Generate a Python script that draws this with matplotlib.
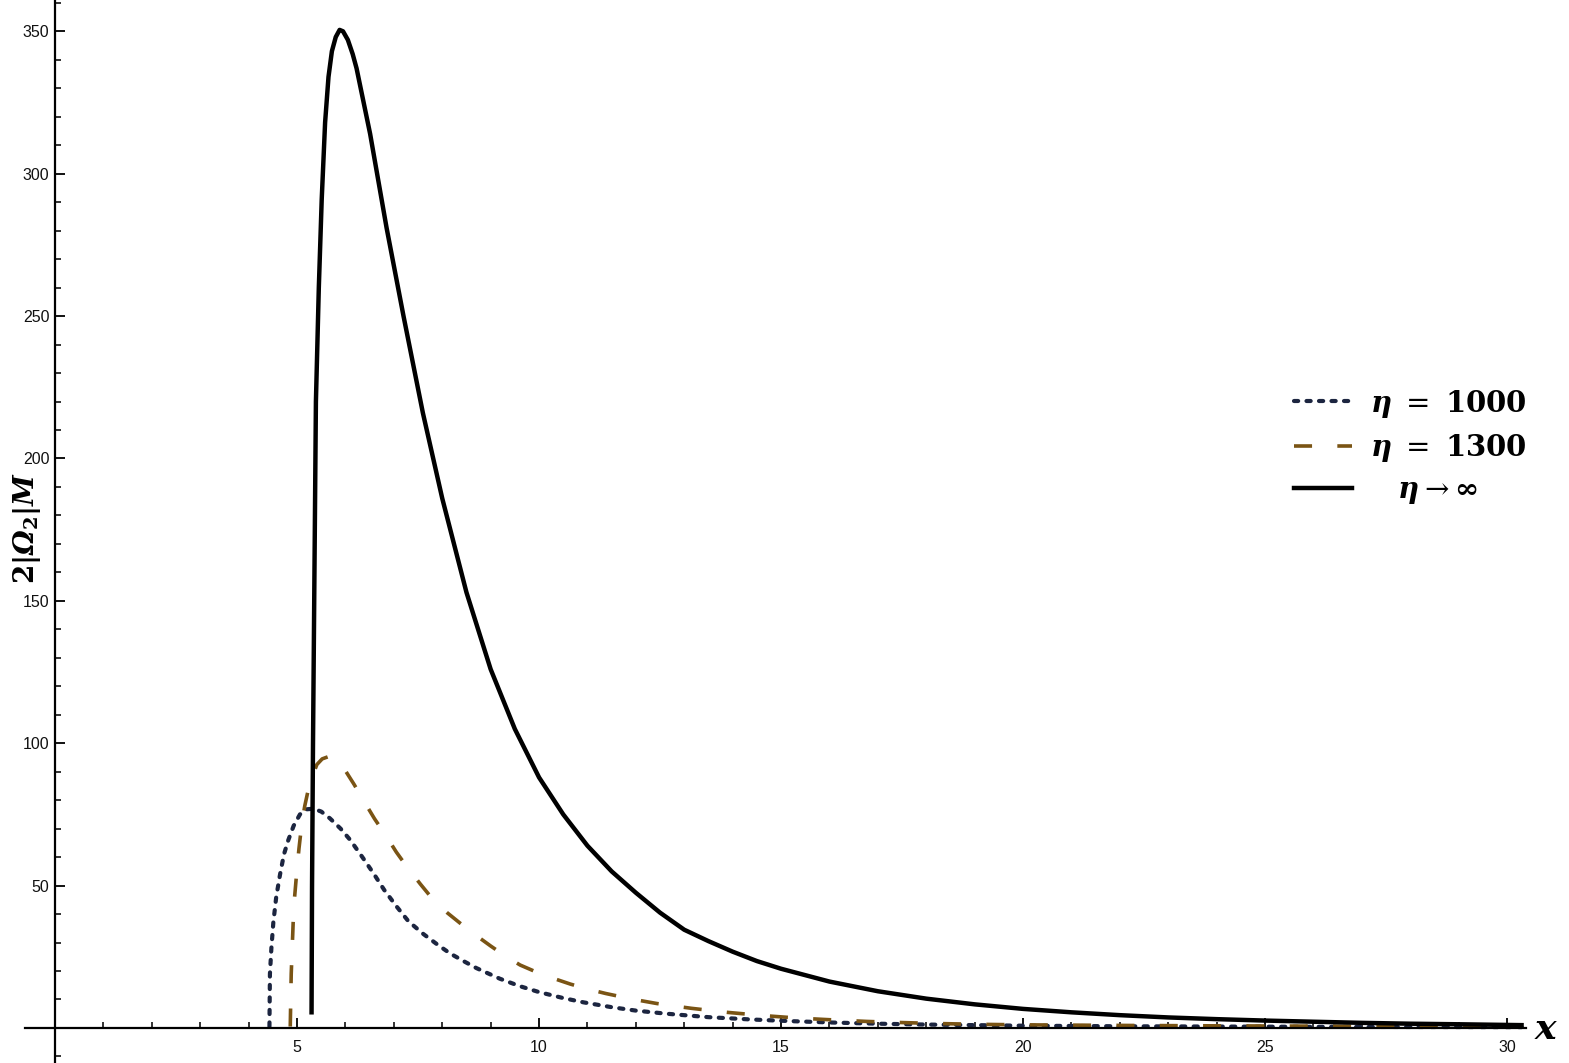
import numpy as np
import matplotlib.pyplot as plt
from matplotlib.ticker import MultipleLocator, FixedLocator

plt.rcParams['mathtext.fontset'] = 'dejavuserif'
plt.rcParams['font.family'] = ['Liberation Sans', 'DejaVu Sans']

# eta -> infinity (solid)
x_inf = [5.30, 5.31, 5.33, 5.36, 5.39, 5.45, 5.51, 5.58, 5.65, 5.72, 5.80, 5.88, 5.95,
         6.05, 6.15, 6.23, 6.51, 6.85, 7.2, 7.6, 8.0, 8.5, 9.0, 9.5, 10.0, 10.5, 11.0,
         11.5, 12.0, 12.5, 13.0, 13.5, 14.0, 14.5, 15.0, 16.0, 17.0, 18.0, 19.0, 20.0,
         21.0, 22.0, 23.0, 24.0, 25.0, 26.0, 27.0, 28.0, 29.0, 30.3]
y_inf = [5.5, 50, 100, 160, 220, 260, 291, 318, 334, 343, 348, 350.5, 350,
         347, 342, 337, 314, 281, 250, 216, 186, 153, 126, 105, 88, 75, 64,
         55, 47.5, 40.5, 34.5, 30.5, 26.8, 23.5, 20.8, 16.3, 12.9, 10.3, 8.3, 6.7,
         5.5, 4.5, 3.7, 3.1, 2.6, 2.2, 1.8, 1.5, 1.3, 1.0]

# eta = 1000 (dotted)
x_1000 = [4.43, 4.435, 4.44, 4.47, 4.51, 4.57, 4.65, 4.73, 4.82, 4.93, 5.06, 5.2, 5.34,
          5.5, 5.68, 5.9, 6.1, 6.35, 6.58, 6.8, 7.06, 7.3, 7.61, 7.9, 8.16, 8.45, 8.71,
          9.19, 9.6, 10.0, 10.5, 10.92, 11.5, 12.0, 12.64, 13.5, 14.36, 15.2, 16.08,
          17.0, 18.0, 19.0, 20.0, 22.0, 24.0, 26.0, 28.0, 30.3]
y_1000 = [0.5, 10, 19, 28, 37, 46, 54, 61, 66, 71, 75, 76.8, 77,
          76, 73.6, 70, 66, 60, 54.3, 48.5, 42.6, 37.5, 33, 29.3, 26.2, 23.4, 21,
          17.3, 14.7, 12.6, 10.5, 9.0, 7.3, 6.1, 5.0, 3.8, 3.0, 2.4, 1.9,
          1.5, 1.2, 1.0, 0.8, 0.6, 0.5, 0.4, 0.35, 0.3]

# eta = 1300 (dashed)
x_1300 = [4.86, 4.87, 4.88, 4.90, 4.92, 4.95, 4.99, 5.04, 5.10, 5.16, 5.23, 5.32, 5.41,
          5.52, 5.65, 5.80, 5.99, 6.18, 6.37, 6.6, 6.85, 7.05, 7.27, 7.55, 7.82, 8.1,
          8.37, 8.7, 9.0, 9.3, 9.61, 9.95, 10.30, 10.65, 11.02, 11.38, 11.74, 12.1,
          12.43, 12.8, 13.15, 13.88, 14.6, 15.32, 16.0, 16.77, 17.5, 18.14, 19.0,
          20.0, 22.0, 24.0, 26.0, 28.0, 30.3]
y_1300 = [0.5, 10, 19, 28, 37, 46, 54, 63, 72, 78, 83.5, 88.5, 92.5,
          94.5, 95.3, 94.5, 90.6, 85.5, 80, 73.5, 67.2, 61.8, 56.6, 50.5, 44.9, 40.5,
          36.8, 32.5, 28.8, 25.3, 22.1, 19.6, 17.4, 15.4, 13.6, 12.1, 10.8, 9.6,
          8.6, 7.7, 6.9, 5.5, 4.4, 3.5, 2.9, 2.3, 1.9, 1.6, 1.3,
          1.1, 0.9, 0.75, 0.65, 0.55, 0.5]

fig = plt.figure(figsize=(15.69, 10.63), dpi=100)
ax = fig.add_axes([0, 0, 1, 1])

ax.plot(x_1000, y_1000, color='#1c2540', lw=3.0, linestyle=(0, (1, 2)),
        dash_capstyle='round', label=r'$\boldsymbol{\eta}\ =\ \mathbf{1000}$')
ax.plot(x_1300, y_1300, color='#7a5414', lw=2.6, linestyle=(0, (5, 7)),
        label=r'$\boldsymbol{\eta}\ =\ \mathbf{1300}$')
ax.plot(x_inf, y_inf, color='black', lw=3.2,
        label=r'$\quad\boldsymbol{\eta} \rightarrow \mathbf{\infty}$')

ax.set_xlim(-1.137, 31.28)
ax.set_ylim(-12.3, 361)

# axes through the origin
for s in ['top', 'right']:
    ax.spines[s].set_visible(False)
ax.spines['left'].set_position(('data', 0))
ax.spines['bottom'].set_position(('data', 0))
ax.spines['left'].set_linewidth(1.6)
ax.spines['bottom'].set_linewidth(1.6)
ax.spines['bottom'].set_bounds(-0.62, 30.4)

ax.set_xticks([5, 10, 15, 20, 25, 30])
ax.xaxis.set_minor_locator(FixedLocator([i for i in range(1, 31) if i % 5]))
ax.set_yticks([50, 100, 150, 200, 250, 300, 350])
ax.yaxis.set_minor_locator(MultipleLocator(10))
ax.tick_params(which='major', direction='in', length=7, width=1.4,
               labelsize=11.5, colors='#111111', pad=4)
ax.tick_params(which='minor', direction='in', length=4, width=1.2, colors='#111111')
ax.tick_params(axis='x', which='both', pad=9)

ax.text(-0.58, 175.5, r'$\mathbf{2|}\mathbfit{\Omega}_{\mathbf{2}}\mathbf{|}\boldsymbol{M}$',
        rotation=90, ha='center', va='center', fontsize=20)
ax.text(30.55, -0.5, r'$\boldsymbol{x}$', ha='left', va='center', fontsize=26)

ax.legend(loc='upper left', bbox_to_anchor=(0.808, 0.66), frameon=False,
          fontsize=21, handlelength=2.0, handletextpad=0.6, labelspacing=0.42)

fig.savefig('out.png', dpi=100)
